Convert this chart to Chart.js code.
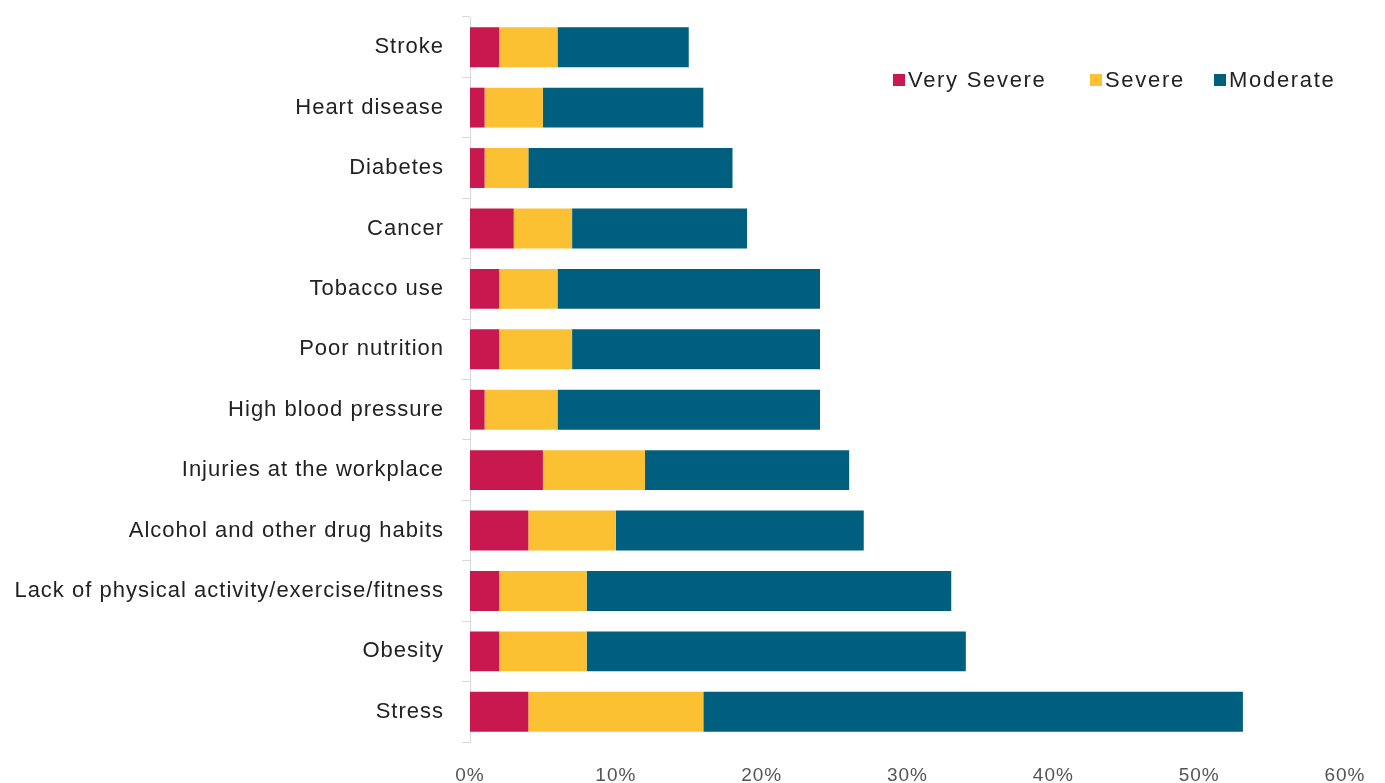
<!DOCTYPE html>
<html>
<head>
<meta charset="utf-8">
<script src="https://cdn.jsdelivr.net/npm/chart.js@4.4.1/dist/chart.umd.min.js"></script>
<style>
  html, body { margin: 0; padding: 0; background: #fff; }
  #wrap { position: relative; width: 1385px; height: 783px; }
  #legend { position: absolute; left: 0; top: 0; font: 22px 'Liberation Sans', Arial, sans-serif; color: #222; white-space: nowrap; letter-spacing: 1.7px; }
  #legend .item { position: absolute; top: 67px; }
  #legend .box { display: inline-block; width: 12px; height: 12px; margin-right: 3px; vertical-align: 1px; }
</style>
</head>
<body>
<div id="wrap">
  <canvas id="chart" width="1385" height="783"></canvas>
  <div id="legend"></div>
</div>
<script>
const categories = ['Stroke', 'Heart disease', 'Diabetes', 'Cancer', 'Tobacco use', 'Poor nutrition',
  'High blood pressure', 'Injuries at the workplace', 'Alcohol and other drug habits',
  'Lack of physical activity/exercise/fitness', 'Obesity', 'Stress'];
const verySevere = [2, 1, 1, 3, 2, 2, 1, 5, 4, 2, 2, 4];
const severe     = [4, 4, 3, 4, 4, 5, 5, 7, 6, 6, 6, 12];
const moderate   = [9, 11, 14, 12, 18, 17, 18, 14, 17, 25, 26, 37];
const xTicks     = [0, 10, 20, 30, 40, 50, 60];

const series = [
  { label: 'Very Severe', data: verySevere, color: '#C8184F', left: 893 },
  { label: 'Severe',      data: severe,     color: '#FBC132', left: 1090 },
  { label: 'Moderate',    data: moderate,   color: '#005F7F', left: 1214 }
];

// ── Leyenda ──
document.getElementById('legend').innerHTML = series.map(s =>
  `<span class="item" style="left:${s.left}px"><span class="box" style="background:${s.color}"></span>${s.label}</span>`
).join('');

const font = { family: "'Liberation Sans', Arial, sans-serif" };

// texto algo más ancho, como en el original
const spacing = {
  id: 'spacing',
  beforeLayout: chart => { chart.ctx.letterSpacing = '1px'; },
  beforeDraw: chart => { chart.ctx.letterSpacing = '1px'; }
};

new Chart(document.getElementById('chart'), {
  type: 'bar',
  data: {
    labels: categories,
    datasets: series.map(s => ({
      label: s.label,
      data: s.data,
      backgroundColor: s.color,
      borderWidth: 0,
      categoryPercentage: 1,
      barPercentage: 0.66
    }))
  },
  options: {
    indexAxis: 'y',
    responsive: false,
    animation: false,
    layout: { padding: { left: 0, right: 40, top: 17, bottom: 0 } },
    plugins: { legend: { display: false }, tooltip: { enabled: false } },
    scales: {
      x: {
        stacked: true,
        min: 0, max: 60,
        afterBuildTicks: scale => { scale.ticks = xTicks.map(v => ({ value: v })); },
        afterFit: scale => { scale.height = 41; },
        grid: { display: false },
        border: { display: false },
        ticks: { font: { ...font, size: 19 }, color: '#555', padding: 14, maxRotation: 0,
                  callback: v => v + '%' }
      },
      y: {
        stacked: true,
        afterFit: scale => { scale.width = 470; scale.paddingTop = 0; scale.paddingBottom = 0; },
        grid: { display: true, drawOnChartArea: false, drawTicks: true, tickLength: 8, color: '#D9D9D9', offset: true },
        border: { display: true, color: '#D9D9D9' },
        ticks: { font: { ...font, size: 22 }, color: '#222', padding: 18 }
      }
    }
  },
  plugins: [spacing]
});
</script>
</body>
</html>
